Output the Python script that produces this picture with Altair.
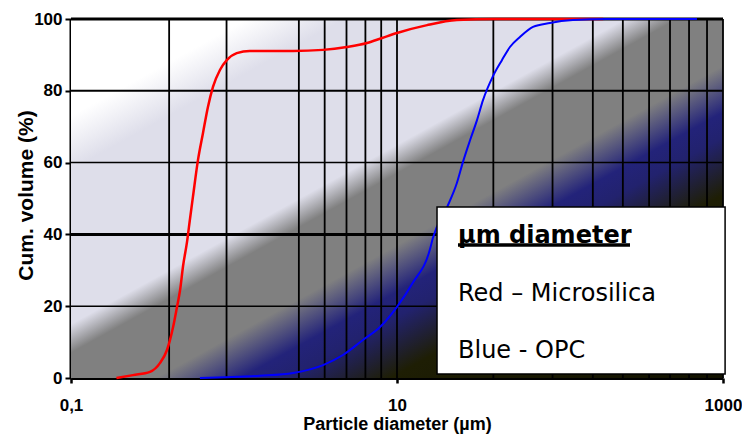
import altair as alt
import pandas as pd

# ---- data ----
red_x = [0.19, 0.24, 0.305, 0.352, 0.388, 0.405, 0.423, 0.447, 0.467, 0.487, 0.515, 0.537,
         0.56, 0.601, 0.645, 0.692, 0.743, 0.82, 0.906, 1.04, 1.25, 2.3, 3.52, 4.93, 6.55,
         8.09, 10, 15.3, 23.3, 40, 184]
red_y = [0, 0.8, 1.7, 4.2, 7.8, 10.6, 14.2, 19.8, 24.5, 31.2, 37.9, 44.3,
         50.5, 60.7, 68.2, 75.5, 81.1, 85.8, 88.6, 90.5, 91.1, 91.1, 91.4, 92.2, 93.3,
         94.7, 96.1, 98.3, 99.7, 100, 100]

blue_x = [0.618, 1.44, 2.3, 3.52, 4.66, 6.18, 7.87, 10, 12.5, 15.9, 16.6, 20.3, 23.3, 25.4,
          28.1, 31, 33.7, 38.8, 44.1, 49.3, 56.8, 68.3, 86.8, 120, 194, 692]
blue_y = [0, 0.6, 1.4, 3.6, 6.4, 10.6, 14.2, 19.8, 26.5, 35.7, 39.0, 47.6, 54.3, 60.2,
          66.3, 71.9, 77.4, 84.1, 88.6, 92.2, 95.0, 97.8, 98.9, 99.7, 100, 100]

x_grid = [0.4, 0.9, 2.5, 3.6, 4.9, 6.4, 8.0, 10, 39, 90, 159, 243, 352, 473, 619, 798, 1000]
y_grid_thin = [20, 60]
y_grid_medium = [80]
y_grid_thick = [40, 100]

x_ticks = [0.1, 10, 1000]
x_tick_labels = ["0,1", "10", "1000"]
y_ticks = [0, 20, 40, 60, 80, 100]

x_domain = [0.1, 1000]
y_domain = [0, 100]

legend_title = "µm diameter"
legend_lines = ["Red – Microsilica", "Blue - OPC"]
legend_box_x = [17.6, 1030]
legend_box_y = [1.1, 47.6]
legend_text_x = 23.67
legend_title_y = 37.7
legend_lines_y = [21.4, 5.5]
underline_x = [23.67, 268.8]
underline_y = 37.05

# ---- helpers ----
xs = alt.Scale(type="log", domain=x_domain, nice=False)
ys = alt.Scale(domain=y_domain, nice=False)

label_expr = ""
for v, l in zip(x_ticks, x_tick_labels):
    label_expr += f"datum.value == {v} ? '{l}' : "
label_expr += "''"

FONT = "Liberation Sans"

x_axis = alt.Axis(values=x_ticks, labelExpr=label_expr, title="Particle diameter (µm)",
                  grid=False, tickSize=5, tickWidth=2.5, tickColor="black",
                  domainWidth=3, domainColor="black",
                  labelFont=FONT, labelFontWeight="bold", labelFontSize=17, labelColor="black",
                  labelPadding=14, labelFlush=False, labelOverlap=False,
                  titleFont=FONT, titleFontWeight="bold", titleFontSize=18, titleColor="black",
                  titleX=326, titleY=51, titleBaseline="alphabetic", titleAlign="center")
y_axis = alt.Axis(values=y_ticks, title="Cum. volume (%)", grid=False,
                  tickSize=6, tickWidth=2, tickColor="black",
                  domainWidth=4, domainColor="black",
                  labelFont=FONT, labelFontWeight="bold", labelFontSize=17, labelColor="black",
                  labelPadding=3, labelFlush=False, labelOverlap=False,
                  titleFont=FONT, titleFontWeight="bold", titleFontSize=21, titleColor="black",
                  titleX=-39, titleY=176, titleBaseline="alphabetic", titleAlign="center",
                  titleAngle=270)

bg_df = pd.DataFrame({"x": [x_domain[0]], "x2": [x_domain[1]], "y": [y_domain[0]], "y2": [y_domain[1]]})
gradient = alt.LinearGradient(
    gradient="linear", x1=0, y1=0, x2=1, y2=1,
    stops=[
        alt.GradientStop(offset=0.0, color="#ffffff"),
        alt.GradientStop(offset=0.135, color="#ffffff"),
        alt.GradientStop(offset=0.21, color="#dedeea"),
        alt.GradientStop(offset=0.425, color="#dedeea"),
        alt.GradientStop(offset=0.465, color="#808080"),
        alt.GradientStop(offset=0.565, color="#808080"),
        alt.GradientStop(offset=0.63, color="#23237a"),
        alt.GradientStop(offset=0.665, color="#22226e"),
        alt.GradientStop(offset=0.745, color="#1e1e04"),
        alt.GradientStop(offset=1.0, color="#121200"),
    ],
)
background = alt.Chart(bg_df).mark_rect(fill=gradient).encode(
    x=alt.X("x:Q", scale=xs, axis=x_axis), x2="x2:Q",
    y=alt.Y("y:Q", scale=ys, axis=y_axis), y2="y2:Q",
)

vgrid = alt.Chart(pd.DataFrame({"x": x_grid})).mark_rule(color="black", strokeWidth=1.8).encode(
    x=alt.X("x:Q", scale=xs))

def hrules(vals, w):
    return alt.Chart(pd.DataFrame({"y": vals})).mark_rule(color="black", strokeWidth=w).encode(
        y=alt.Y("y:Q", scale=ys))

h_thin = hrules(y_grid_thin, 1.5)
h_med = hrules(y_grid_medium, 2)
h_thick = hrules(y_grid_thick, 3)

red = alt.Chart(pd.DataFrame({"x": red_x, "y": red_y})).mark_line(
    color="#ff0000", strokeWidth=2.5, interpolate="monotone").encode(
    x=alt.X("x:Q", scale=xs), y=alt.Y("y:Q", scale=ys))
blue = alt.Chart(pd.DataFrame({"x": blue_x, "y": blue_y})).mark_line(
    color="#0000ff", strokeWidth=2, interpolate="monotone").encode(
    x=alt.X("x:Q", scale=xs), y=alt.Y("y:Q", scale=ys))

box_df = pd.DataFrame({"x": [legend_box_x[0]], "x2": [legend_box_x[1]],
                       "y": [legend_box_y[0]], "y2": [legend_box_y[1]]})
box = alt.Chart(box_df).mark_rect(fill="white", stroke="black", strokeWidth=1.5).encode(
    x=alt.X("x:Q", scale=xs), x2="x2:Q",
    y=alt.Y("y:Q", scale=ys), y2="y2:Q")

title_df = pd.DataFrame({"x": [legend_text_x], "y": [legend_title_y], "t": [legend_title]})
ltitle = alt.Chart(title_df).mark_text(align="left", baseline="alphabetic", font="DejaVu Sans",
                                       fontSize=24, fontWeight="bold", color="black").encode(
    x=alt.X("x:Q", scale=xs), y=alt.Y("y:Q", scale=ys), text="t:N")

lines_df = pd.DataFrame({"x": [legend_text_x] * len(legend_lines), "y": legend_lines_y,
                         "t": legend_lines})
llines = alt.Chart(lines_df).mark_text(align="left", baseline="alphabetic", font="DejaVu Sans",
                                       fontSize=24, color="black").encode(
    x=alt.X("x:Q", scale=xs), y=alt.Y("y:Q", scale=ys), text="t:N")

ul_df = pd.DataFrame({"x": [underline_x[0]], "x2": [underline_x[1]], "y": [underline_y]})
underline = alt.Chart(ul_df).mark_rule(color="black", strokeWidth=3.4).encode(
    x=alt.X("x:Q", scale=xs), x2="x2:Q", y=alt.Y("y:Q", scale=ys))

chart = alt.layer(background, vgrid, h_thin, h_med, h_thick, red, blue,
                  box, ltitle, llines, underline).properties(
    width=652, height=359,
    padding={"left": 63, "top": 11, "right": 19, "bottom": 57},
    autosize=alt.AutoSizeParams(type="none"),
).configure_view(strokeWidth=0).configure_axis(grid=False)

chart.save("out.html", embed_options={"renderer": "svg", "actions": False})
